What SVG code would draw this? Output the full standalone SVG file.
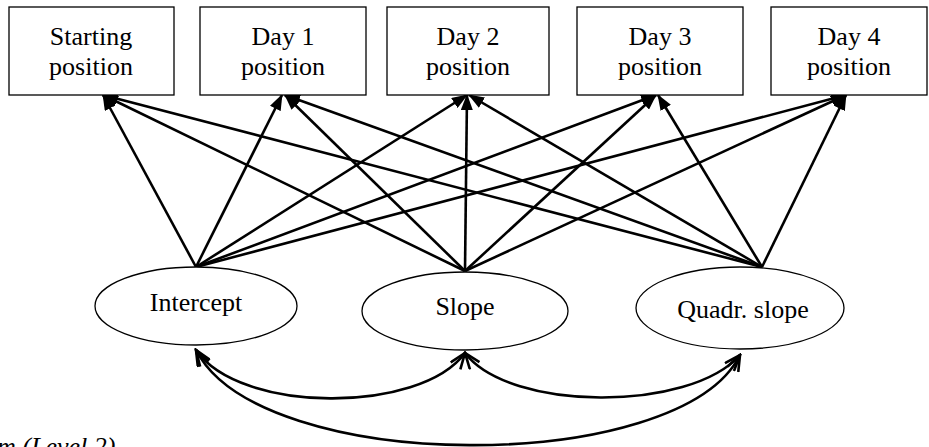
<svg xmlns="http://www.w3.org/2000/svg" width="929" height="447" viewBox="0 0 929 447">
<defs>
<style>
.box{fill:#fff;stroke:#000;stroke-width:1.3}
.ell{fill:#fff;stroke:#000;stroke-width:1.3}
.t{font-family:"Liberation Serif","Times New Roman",serif;font-size:26px;fill:#000;text-anchor:middle}
.c{fill:none;stroke:#000;stroke-width:2.6}
.cv{fill:none;stroke:#000;stroke-width:2.6}
</style>
<marker id="ah" viewBox="0 0 16 12" refX="15" refY="6" markerWidth="16" markerHeight="12" markerUnits="userSpaceOnUse" orient="auto">
<path d="M0,0 L16,6 L0,12 z" fill="#000"/>
</marker>
<marker id="oh" viewBox="0 0 20 14" refX="18" refY="7" markerWidth="20" markerHeight="14" markerUnits="userSpaceOnUse" orient="auto-start-reverse">
<path d="M2,1 L18,7 L2,13" fill="none" stroke="#000" stroke-width="2.6"/>
</marker>
</defs>
<g id="connectors">
<g class="c" marker-end="url(#ah)">
<line x1="196" y1="267" x2="103" y2="95"/>
<line x1="196" y1="267" x2="282" y2="95"/>
<line x1="196" y1="267" x2="467" y2="95"/>
<line x1="196" y1="267" x2="656" y2="95"/>
<line x1="196" y1="267" x2="846" y2="95"/>
<line x1="465" y1="271" x2="103" y2="95"/>
<line x1="465" y1="271" x2="285" y2="95"/>
<line x1="465" y1="271" x2="467" y2="95"/>
<line x1="465" y1="271" x2="656" y2="95"/>
<line x1="465" y1="271" x2="846" y2="95"/>
<line x1="762" y1="267" x2="103" y2="95"/>
<line x1="762" y1="267" x2="285" y2="95"/>
<line x1="762" y1="267" x2="469" y2="95"/>
<line x1="762" y1="267" x2="658" y2="95"/>
<line x1="762" y1="267" x2="846" y2="95"/>
</g>
<g class="cv" marker-start="url(#oh)" marker-end="url(#oh)">
<path d="M196,350 C240,414 420,414 465,353"/>
<path d="M196,350 C260,476 680,476 740,355"/>
<path d="M465,353 C510,412 690,412 740,355"/>
</g>
</g>
<g id="start"><rect class="box" x="9" y="7" width="165" height="88"/><text class="t" x="91" y="45">Starting</text><text class="t" x="91" y="75">position</text></g>
<g id="day1"><rect class="box" x="200" y="7" width="166" height="88"/><text class="t" x="283" y="45">Day 1</text><text class="t" x="283" y="75">position</text></g>
<g id="day2"><rect class="box" x="387" y="7" width="162" height="88"/><text class="t" x="468" y="45">Day 2</text><text class="t" x="468" y="75">position</text></g>
<g id="day3"><rect class="box" x="577" y="7" width="166" height="88"/><text class="t" x="660" y="45">Day 3</text><text class="t" x="660" y="75">position</text></g>
<g id="day4"><rect class="box" x="771" y="7" width="156" height="88"/><text class="t" x="849" y="45">Day 4</text><text class="t" x="849" y="75">position</text></g>
<g id="intercept"><ellipse class="ell" cx="196" cy="306" rx="101" ry="39"/><text class="t" x="196" y="311">Intercept</text></g>
<g id="slope"><ellipse class="ell" cx="465" cy="311" rx="103" ry="39"/><text class="t" x="465" y="315">Slope</text></g>
<g id="quadr"><ellipse class="ell" cx="740" cy="308" rx="104" ry="41"/><text class="t" x="743" y="318">Quadr. slope</text></g>
<text x="-3" y="455" style="font-family:'Liberation Serif','Times New Roman',serif;font-size:26px;font-style:italic">m (Level 2)</text>
</svg>
